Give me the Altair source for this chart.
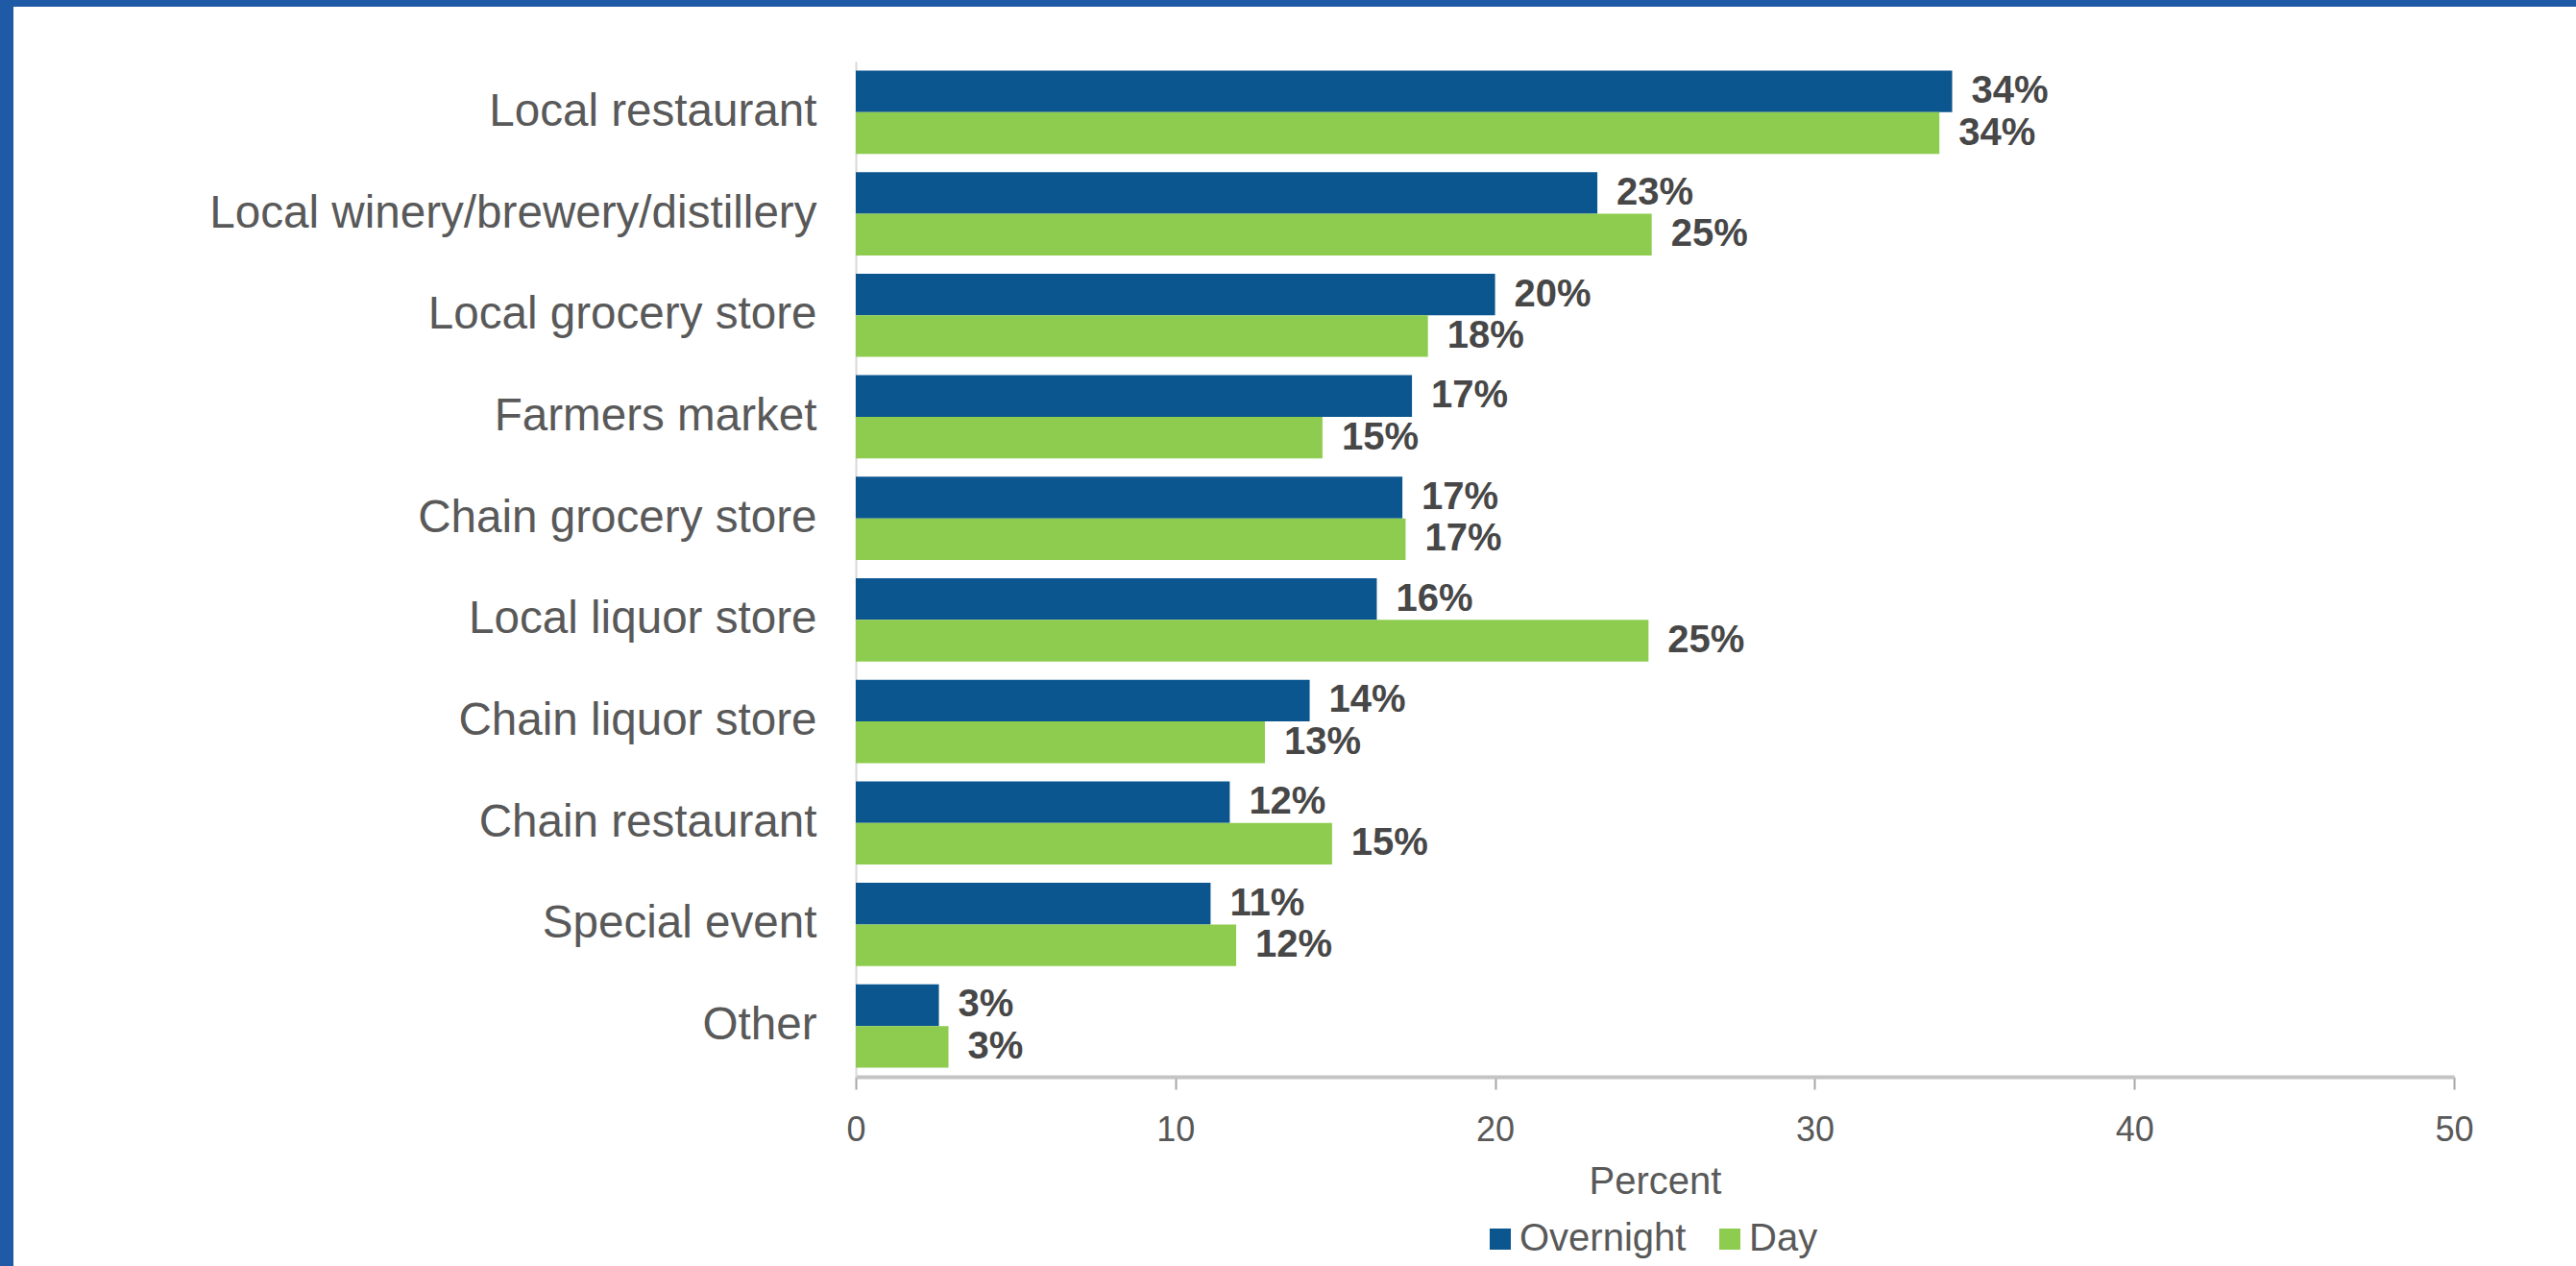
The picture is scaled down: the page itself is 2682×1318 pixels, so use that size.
import altair as alt
import pandas as pd

FONT = "Liberation Sans"

categories = [
    "Local restaurant",
    "Local winery/brewery/distillery",
    "Local grocery store",
    "Farmers market",
    "Chain grocery store",
    "Local liquor store",
    "Chain liquor store",
    "Chain restaurant",
    "Special event",
    "Other",
]
overnight = [34.3, 23.2, 20.0, 17.4, 17.1, 16.3, 14.2, 11.7, 11.1, 2.6]
day = [33.9, 24.9, 17.9, 14.6, 17.2, 24.8, 12.8, 14.9, 11.9, 2.9]
series = ["Overnight", "Day"]
colors = ["#0B568F", "#8ECC4F"]
x_ticks = [0, 10, 20, 30, 40, 50]

rows = []
for c, o, d in zip(categories, overnight, day):
    rows.append({"category": c, "series": "Overnight", "value": o})
    rows.append({"category": c, "series": "Day", "value": d})
df = pd.DataFrame(rows)

base = alt.Chart(df).transform_calculate(
    label="format(datum.value, '.0f') + '%'"
).encode(
    y=alt.Y(
        "category:N",
        sort=categories,
        scale=alt.Scale(paddingInner=0.18, paddingOuter=0.09),
        axis=alt.Axis(
            title=None,
            ticks=False,
            tickSize=0,
            labelPadding=41,
            labelFontSize=47.6,
            labelColor="#595959",
            labelFont=FONT,
            labelLimit=1000,
            domainColor="#D9D9D9",
            domainWidth=2,
        ),
    ),
    yOffset=alt.YOffset(
        "series:N", sort=series, scale=alt.Scale(paddingInner=0, paddingOuter=0)
    ),
    x=alt.X(
        "value:Q",
        scale=alt.Scale(domain=[0, 50], nice=False),
        axis=alt.Axis(
            values=x_ticks,
            title="Percent",
            grid=False,
            domainColor="#C4C4C4",
            domainWidth=4,
            tickColor="#A6A6A6",
            tickWidth=2,
            tickSize=13,
            labelPadding=25,
            labelFlush=False,
            labelFontSize=36,
            labelColor="#595959",
            labelFont=FONT,
            titleFont=FONT,
            titleFontSize=40,
            titleFontWeight="normal",
            titleColor="#595959",
            titleY=109,
            titleBaseline="middle",
        ),
    ),
)

bars = base.mark_bar().encode(
    color=alt.Color(
        "series:N",
        sort=series,
        scale=alt.Scale(domain=series, range=colors),
        legend=alt.Legend(
            title=None,
            orient="none",
            legendX=651,
            legendY=1206,
            direction="horizontal",
            symbolType="square",
            symbolSize=484,
            symbolStrokeWidth=0,
            labelFontSize=40,
            labelColor="#595959",
            labelFont=FONT,
            labelLimit=1000,
            labelOffset=0,
            columnPadding=25,
            padding=0,
        ),
    )
)

labels = base.mark_text(
    align="left",
    baseline="middle",
    dx=20,
    fontSize=40,
    fontWeight="bold",
    color="#474747",
    font=FONT,
).encode(text="label:N")

frame_df = pd.DataFrame({"k": [0]})
frame_left = alt.Chart(frame_df).mark_rect(color="#1F5AA6").encode(
    x=alt.value(-891), x2=alt.value(-877), y=alt.value(-64), y2=alt.value(1254)
)
frame_top = alt.Chart(frame_df).mark_rect(color="#1F5AA6").encode(
    x=alt.value(-891), x2=alt.value(1791), y=alt.value(-64), y2=alt.value(-57)
)

chart = (
    alt.layer(bars, labels, frame_left, frame_top)
    .properties(
        width=1664,
        height=1057,
        autosize=alt.AutoSizeParams(type="none"),
        padding={"left": 891, "top": 64, "right": 127, "bottom": 197},
        background="white",
    )
    .configure_view(stroke=None)
)

chart.save("out.html", embed_options={"renderer": "svg", "actions": False})
